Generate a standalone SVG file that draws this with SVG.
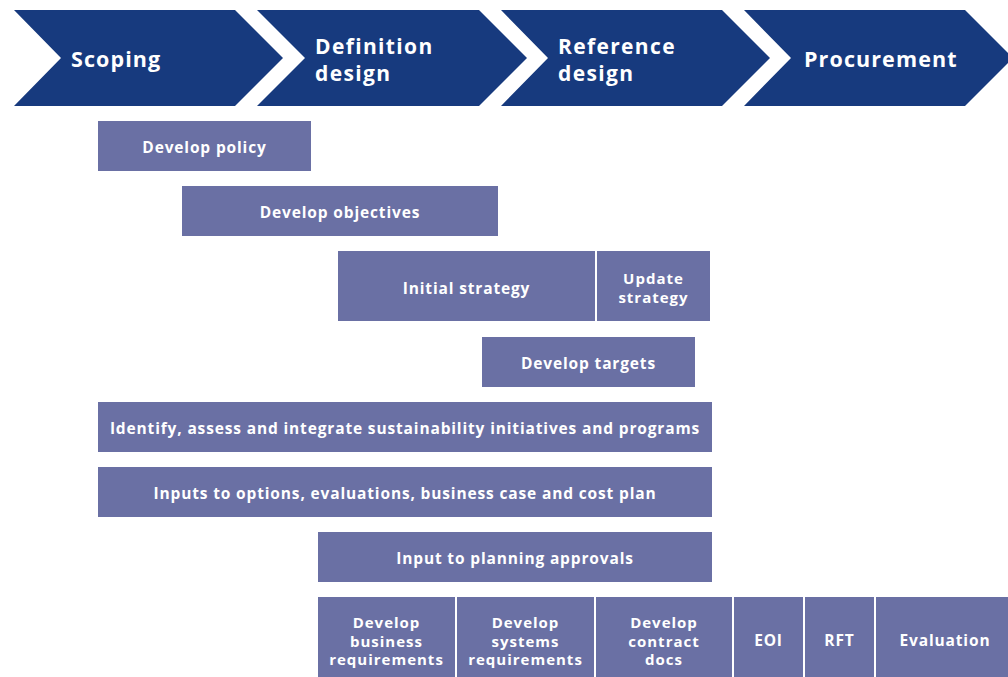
<svg xmlns="http://www.w3.org/2000/svg" width="1008" height="677" viewBox="0 0 1008 677">
<style>
.chev{fill:#173a7e}
.ph{font-family:"Open Sans","Liberation Sans",sans-serif;font-weight:700;font-size:21.5px;fill:#fff;letter-spacing:1.1px}
.ph2{font-size:21px;letter-spacing:1.35px}
.box{fill:#6a70a4}
.t{font-family:"Open Sans","Liberation Sans",sans-serif;font-weight:700;font-size:15.5px;fill:#fff;text-anchor:middle;letter-spacing:0.85px}
.m{font-size:15px;letter-spacing:1px}
</style>
<rect width="1008" height="677" fill="#fff"/>
<g id="phase-scoping"><polygon class="chev" points="14,10 235,10 283,58 235,106 14,106 61,58"/><text class="ph" x="71" y="67">Scoping</text></g>
<g id="phase-definition"><polygon class="chev" points="257,10 479,10 527,58 479,106 257,106 305,58"/><text class="ph ph2" x="315" y="53.5">Definition</text><text class="ph ph2" x="315" y="80.5">design</text></g>
<g id="phase-reference"><polygon class="chev" points="501,10 722,10 770,58 722,106 501,106 548,58"/><text class="ph ph2" x="558" y="53.5">Reference</text><text class="ph ph2" x="558" y="80.5">design</text></g>
<g id="phase-procurement"><polygon class="chev" points="744,10 965,10 1013,58 965,106 744,106 791,58"/><text class="ph" x="804" y="67">Procurement</text></g>
<g id="develop-policy"><rect class="box" x="98" y="121" width="213" height="50"/><text class="t" x="204.5" y="153">Develop policy</text></g>
<g id="develop-objectives"><rect class="box" x="182" y="186" width="316" height="50"/><text class="t" x="340" y="218">Develop objectives</text></g>
<g id="initial-strategy"><rect class="box" x="338" y="251" width="257" height="70"/><text class="t" x="466.5" y="294">Initial strategy</text></g>
<g id="update-strategy"><rect class="box" x="597" y="251" width="113" height="70"/><text class="t m" x="653.5" y="284">Update</text><text class="t m" x="653.5" y="303">strategy</text></g>
<g id="develop-targets"><rect class="box" x="482" y="337" width="213" height="50"/><text class="t" x="588.5" y="369">Develop targets</text></g>
<g id="identify"><rect class="box" x="98" y="402" width="614" height="50"/><text class="t" x="405" y="434">Identify, assess and integrate sustainability initiatives and programs</text></g>
<g id="inputs"><rect class="box" x="98" y="467" width="614" height="50"/><text class="t" x="405" y="499">Inputs to options, evaluations, business case and cost plan</text></g>
<g id="planning"><rect class="box" x="318" y="532" width="394" height="50"/><text class="t" x="515" y="564">Input to planning approvals</text></g>
<g id="business-req"><rect class="box" x="318" y="597" width="137" height="80"/><text class="t m" x="386.5" y="628">Develop</text><text class="t m" x="386.5" y="646.5">business</text><text class="t m" x="386.5" y="665">requirements</text></g>
<g id="systems-req"><rect class="box" x="457" y="597" width="137" height="80"/><text class="t m" x="525.5" y="628">Develop</text><text class="t m" x="525.5" y="646.5">systems</text><text class="t m" x="525.5" y="665">requirements</text></g>
<g id="contract-docs"><rect class="box" x="596" y="597" width="136" height="80"/><text class="t m" x="664" y="628">Develop</text><text class="t m" x="664" y="646.5">contract</text><text class="t m" x="664" y="665">docs</text></g>
<g id="eoi"><rect class="box" x="734" y="597" width="69" height="80"/><text class="t" x="768.5" y="646">EOI</text></g>
<g id="rft"><rect class="box" x="805" y="597" width="69" height="80"/><text class="t" x="839.5" y="646">RFT</text></g>
<g id="evaluation"><rect class="box" x="876" y="597" width="132" height="80"/><text class="t" x="945" y="646">Evaluation</text></g>
<g id="connectors"/>
</svg>
